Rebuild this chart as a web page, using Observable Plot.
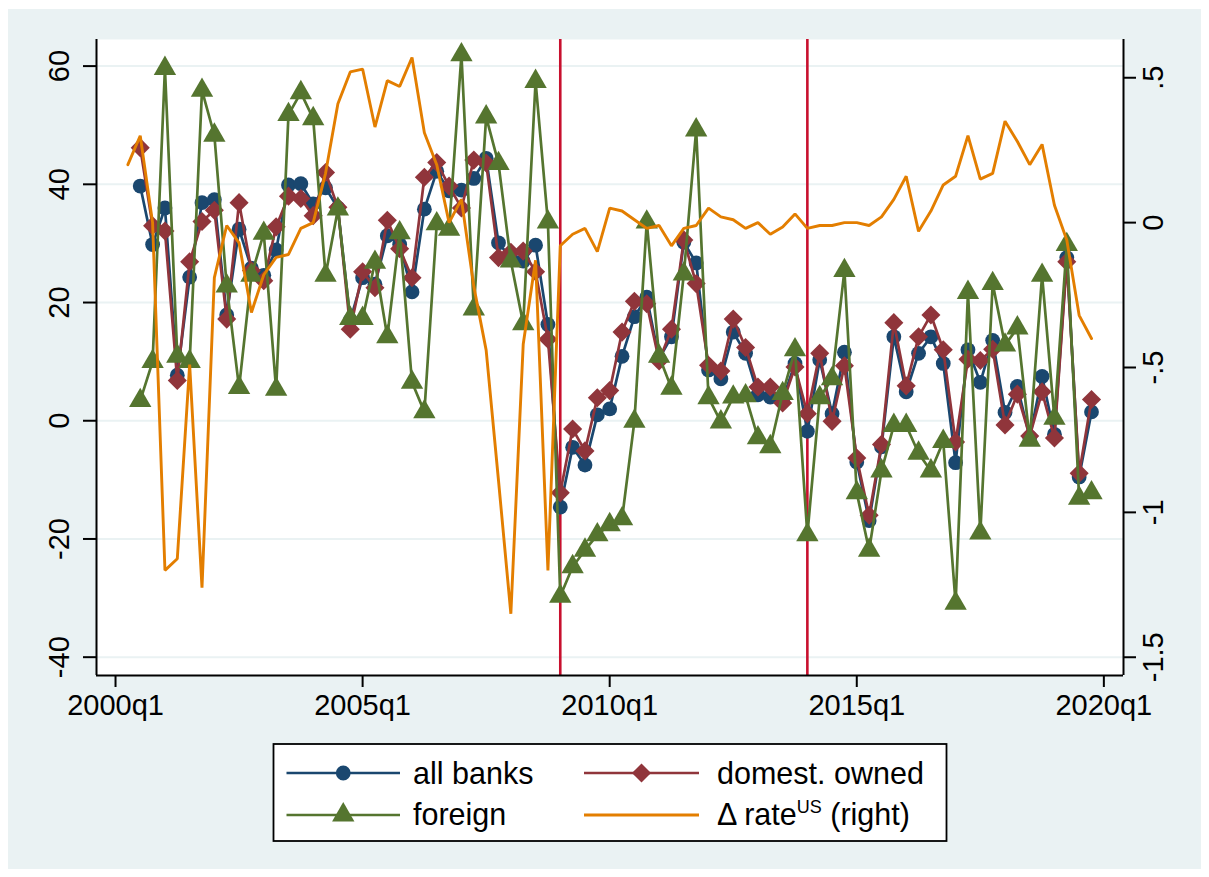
<!DOCTYPE html>
<html>
<head>
<meta charset="utf-8">
<script src="https://cdn.jsdelivr.net/npm/d3@7"></script>
<script src="https://cdn.jsdelivr.net/npm/@observablehq/plot@0.6"></script>
<style>
  html, body { margin: 0; padding: 0; background: #ffffff; }
  #page { position: relative; width: 1209px; height: 877px; overflow: hidden; background: #ffffff; }
  #bg { position: absolute; left: 8px; top: 9px; width: 1193px; height: 860px; background: #EAF2F3; }
  #chart { position: absolute; left: 0; top: 0; width: 1209px; }
  #legend { position: absolute; left: 0; top: 0; }
</style>
</head>
<body>
<div id="page">
  <div id="bg"></div>
  <div id="chart"></div>
  <svg id="legend" width="1209" height="877"></svg>
</div>
<script>
// Quarterly sample: 2000q2 .. 2019q4 (the bank series start one quarter later)
const quarters = d3.range(1, 80).map(i => `${2000 + Math.floor(i / 4)}q${(i % 4) + 1}`);

// Loan growth by bank group (left axis)
const allBanks = [null, 39.7, 29.8, 36.0, 7.7, 24.3, 36.9, 37.4, 17.9, 32.4, 25.8, 24.6, 28.9, 39.9, 40.1, 36.7, 39.4, 36.0, 17.0, 24.2, 23.1, 31.3, 29.8, 21.8, 35.8, 42.2, 38.9, 39.0, 41.0, 44.4, 30.1, 27.5, 27.0, 29.7, 16.3, -14.6, -4.5, -7.5, 1.0, 2.0, 10.9, 17.6, 20.9, 10.5, 14.2, 30.2, 26.7, 8.6, 7.1, 15.0, 11.4, 4.4, 4.0, 3.6, 9.7, -1.8, 10.3, 1.2, 11.6, -7.0, -16.9, -4.4, 14.2, 4.9, 11.4, 14.2, 9.7, -7.1, 12.0, 6.5, 13.6, 1.4, 5.8, -2.8, 7.5, -2.3, 27.6, -9.5, 1.5];
const domestic = [null, 46.2, 33.0, 32.1, 6.8, 26.9, 33.7, 35.6, 17.2, 36.9, 25.4, 23.7, 32.8, 38.0, 37.6, 34.7, 42.0, 36.1, 15.5, 25.2, 22.5, 33.9, 29.1, 24.2, 41.2, 43.7, 39.7, 36.0, 44.1, 43.6, 27.6, 28.5, 28.7, 25.2, 13.8, -12.2, -1.4, -5.1, 3.9, 5.1, 15.0, 20.2, 19.8, 10.1, 15.5, 30.6, 23.2, 9.4, 8.4, 17.2, 12.4, 5.7, 5.7, 3.0, 9.1, 1.2, 11.4, -0.1, 9.3, -6.3, -16.0, -4.0, 16.6, 5.9, 14.2, 17.9, 12.0, -3.6, 10.4, 10.2, 12.1, -0.7, 4.5, -2.6, 4.9, -2.9, 26.9, -8.9, 3.6];
const foreign = [null, 3.4, 10.0, 59.6, 10.9, 10.0, 55.9, 48.3, 22.8, 5.6, 24.6, 31.7, 5.3, 51.8, 55.5, 51.1, 24.6, 35.8, 17.3, 17.3, 26.8, 14.2, 31.8, 6.5, 1.5, 33.3, 32.4, 61.9, 18.9, 51.4, 43.5, 27.0, 16.4, 57.4, 33.6, -29.7, -24.7, -21.9, -19.3, -17.6, -16.6, -0.1, 33.6, 10.9, 5.5, 24.8, 49.2, 3.9, -0.2, 4.0, 4.2, -2.9, -4.4, 4.6, 12.0, -19.3, 3.9, 7.1, 25.4, -12.2, -21.9, -8.5, -0.8, -0.8, -5.5, -8.5, -3.5, -30.9, 21.7, -19.0, 23.2, 12.8, 15.7, -3.3, 24.6, 0.4, 29.8, -13.1, -12.2];

// Change in the US policy rate (right axis)
const usRate = [0.20, 0.30, 0.00, -1.20, -1.16, -0.49, -1.26, -0.19, -0.01, -0.07, -0.31, -0.18, -0.12, -0.11, -0.02, 0.00, 0.17, 0.41, 0.52, 0.53, 0.33, 0.49, 0.47, 0.57, 0.31, 0.20, 0.00, 0.08, -0.22, -0.44, -0.89, -1.35, -0.42, -0.13, -1.20, -0.08, -0.04, -0.02, -0.10, 0.05, 0.04, 0.01, -0.02, -0.01, -0.08, -0.02, -0.01, 0.05, 0.02, 0.01, -0.02, 0.00, -0.04, -0.015, 0.03, -0.02, -0.01, -0.01, 0.00, 0.00, -0.01, 0.02, 0.08, 0.16, -0.03, 0.04, 0.13, 0.16, 0.30, 0.15, 0.17, 0.35, 0.28, 0.20, 0.27, 0.06, -0.06, -0.32, -0.40];

// Vertical reference lines
const breakQuarters = ["2009q1", "2014q1"];

// Axis ticks and labels
const xTickLabels = ["2000q1", "2005q1", "2010q1", "2015q1", "2020q1"];
const leftTicks = [-40, -20, 0, 20, 40, 60];
const rightTicks = [-1.5, -1, -0.5, 0, 0.5];
const rightTickLabels = ["-1.5", "-1", "-.5", "0", ".5"];

const legendLabels = ["all banks", "domest. owned", "foreign", "\u0394 rate"];

// ---- helpers ----
const quarterIndex = s => {
  const [y, q] = s.split("q").map(Number);
  return (y - 2000) * 4 + (q - 1);
};

const navy = "#1A476F", maroon = "#90353B", forest = "#55752F", orange = "#E37E00";
const breakRed = "#C8102E", gridColor = "#EAF2F3";
const fontFamily = "'Liberation Sans', Arial, Helvetica, sans-serif";
const lineWidth = 2.7;

const xDomain = [-1.54, 81.59];
const yDomain = [-43.1, 64.5];
const rDomain = [-1.563, 0.632];
// place right-axis values on the left-axis scale
const toLeft = r => yDomain[0] + (r - rDomain[0]) / (rDomain[1] - rDomain[0]) * (yDomain[1] - yDomain[0]);

const rows = quarters.map((label, i) => ({
  q: quarterIndex(label),
  allBanks: allBanks[i],
  domestic: domestic[i],
  foreign: foreign[i],
  usRate: usRate[i]
}));

const series = [
  {key: "allBanks", color: navy, symbol: "circle", r: 7.4},
  {key: "domestic", color: maroon, symbol: "diamond2", r: 8.6},
  {key: "foreign", color: forest, symbol: "triangle", r: 8.3}
];

const xTicks = xTickLabels.map(quarterIndex);
const xLabelOf = new Map(xTicks.map((q, i) => [q, xTickLabels[i]]));
const rightPos = rightTicks.map(toLeft);
const rightLabelOf = new Map(rightPos.map((v, i) => [v, rightTickLabels[i]]));

const seriesMarks = series.flatMap(s => [
  Plot.line(rows, {x: "q", y: s.key, stroke: s.color, strokeWidth: lineWidth, strokeLinejoin: "miter"}),
  Plot.dot(rows.filter(d => d[s.key] != null), {x: "q", y: s.key, symbol: s.symbol, r: s.r, fill: s.color, stroke: "none"})
]);

const chart = Plot.plot({
  width: 1209,
  height: 730,
  marginLeft: 96,
  marginRight: 86,
  marginTop: 39,
  marginBottom: 55,
  x: {domain: xDomain, axis: null},
  y: {domain: yDomain, axis: null},
  style: {background: "transparent", fontFamily, fontSize: "29px", color: "#000"},
  marks: [
    Plot.frame({fill: "#ffffff", stroke: "none"}),
    Plot.gridY(leftTicks, {stroke: gridColor, strokeOpacity: 1, strokeWidth: 2}),
    Plot.ruleX(breakQuarters.map(quarterIndex), {stroke: breakRed, strokeWidth: 2.6}),
    ...seriesMarks,
    Plot.line(rows, {x: "q", y: d => toLeft(d.usRate), stroke: orange, strokeWidth: 2.9, strokeLinejoin: "miter"}),
    // axis lines
    Plot.ruleY([yDomain[0]], {stroke: "#000", strokeWidth: 2}),
    Plot.ruleX([xDomain[0], xDomain[1]], {stroke: "#000", strokeWidth: 2}),
    // bottom axis
    Plot.axisX(xTicks, {
      anchor: "bottom", tickSize: 12, tickPadding: 7, strokeWidth: 2,
      tickFormat: q => xLabelOf.get(q), fontSize: 29, label: null
    }),
    // left axis
    Plot.axisY(leftTicks, {
      anchor: "left", tickSize: 13, tickPadding: 14.7, tickRotate: -90, strokeWidth: 2,
      textAnchor: "middle", lineAnchor: "bottom",
      tickFormat: d => String(d), fontSize: 29, label: null
    }),
    // right axis
    Plot.axisY(rightPos, {
      anchor: "right", tickSize: 12, tickPadding: 7, tickRotate: -90, strokeWidth: 2,
      textAnchor: "middle", lineAnchor: "top",
      tickFormat: d => rightLabelOf.get(d), fontSize: 29, label: null
    })
  ]
});
document.getElementById("chart").appendChild(chart);

// ---- legend ----
const lg = d3.select("#legend").style("font-family", fontFamily);
lg.append("rect")
  .attr("x", 273.5).attr("y", 744).attr("width", 673).attr("height", 97)
  .attr("fill", "#ffffff").attr("stroke", "#000").attr("stroke-width", 1.8);

const legendItems = [
  {label: legendLabels[0], color: navy, symbol: d3.symbolCircle, r: 7.4, col: 0, row: 0},
  {label: legendLabels[1], color: maroon, symbol: d3.symbolDiamond2, r: 8.6, col: 1, row: 0},
  {label: legendLabels[2], color: forest, symbol: d3.symbolTriangle, r: 8.3, col: 0, row: 1},
  {label: legendLabels[3], color: orange, symbol: null, r: 0, col: 1, row: 1, sup: "US", tail: " (right)"}
];
const colLine = [[286.5, 400], [584, 699]];
const colText = [413, 717];
const rowY = [773, 815];
const rowBase = [783.5, 824.5];

for (const it of legendItems) {
  const [x0, x1] = colLine[it.col];
  const y = rowY[it.row];
  lg.append("line").attr("x1", x0).attr("x2", x1).attr("y1", y).attr("y2", y)
    .attr("stroke", it.color).attr("stroke-width", it.symbol ? lineWidth : 2.9);
  if (it.symbol) {
    lg.append("path")
      .attr("d", d3.symbol(it.symbol, Math.PI * it.r * it.r)())
      .attr("transform", `translate(${(x0 + x1) / 2},${y})`)
      .attr("fill", it.color);
  }
  const t = lg.append("text").attr("x", colText[it.col]).attr("y", rowBase[it.row])
    .attr("font-size", 30.5).attr("fill", "#000");
  t.append("tspan").text(it.label);
  if (it.sup) {
    t.append("tspan").attr("font-size", 18).attr("dy", -12).text(it.sup);
    t.append("tspan").attr("dy", 12).text(it.tail);
  }
}
</script>
</body>
</html>
